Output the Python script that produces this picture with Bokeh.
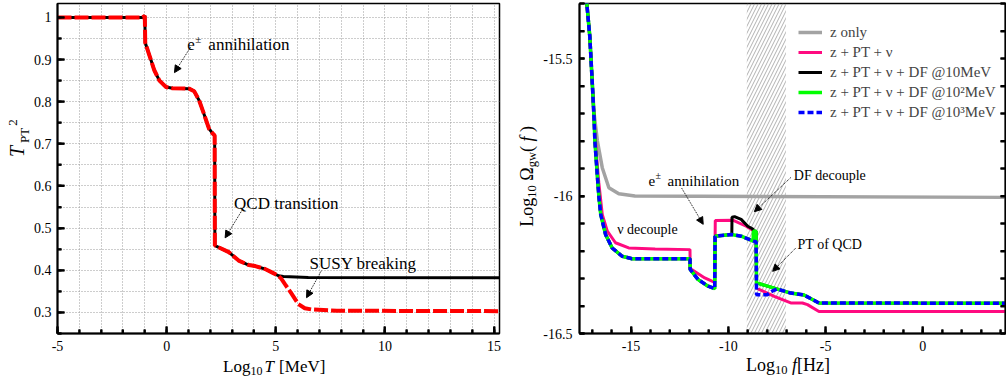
from bokeh.plotting import figure
from bokeh.layouts import row, column
from bokeh.models import (Range1d, FixedTicker, LinearAxis, Label, Arrow, NormalHead,
                          BoxAnnotation, Legend, LegendItem, Div, ColumnDataSource)
from bokeh.embed import file_html
from bokeh.resources import INLINE

SERIF = "Liberation Serif"

# ---------------- left panel data: T_PT^2 vs log10 T [MeV] ----------------
logT_susy = [-5.0, -1.1, -1.0, -0.98, -0.79, -0.56, -0.33, -0.03, 0.27, 1.03, 1.26, 1.49,
             1.71, 1.94, 2.12, 2.2, 2.21, 2.24, 2.85, 3.3, 3.76, 4.06, 4.51, 4.82, 5.12,
             5.35, 6.49, 15.25]
tpt2_susy = [1.0, 1.0, 1.004, 0.94, 0.91, 0.874, 0.85, 0.835, 0.832, 0.831, 0.825, 0.803,
             0.771, 0.736, 0.724, 0.72, 0.458, 0.458, 0.443, 0.423, 0.4125, 0.41, 0.403, 0.395,
             0.387, 0.385, 0.383, 0.382]
logT_red = [-5.0, -1.1, -1.0, -0.98, -0.79, -0.56, -0.33, -0.03, 0.27, 1.03, 1.26, 1.49,
            1.71, 1.94, 2.12, 2.2, 2.21, 2.24, 2.85, 3.3, 3.76, 4.06, 4.51, 4.82, 5.12,
            5.25, 5.42, 5.73, 6.03, 6.33, 6.64, 7.8, 15.25]
tpt2_red = [1.0, 1.0, 1.004, 0.94, 0.91, 0.874, 0.85, 0.835, 0.832, 0.831, 0.825, 0.803,
            0.771, 0.736, 0.724, 0.72, 0.458, 0.458, 0.443, 0.423, 0.4125, 0.41, 0.403, 0.395,
            0.387, 0.38, 0.367, 0.344, 0.32, 0.31, 0.307, 0.304, 0.303]

left_x_range = (-5, 15.25)
left_y_range = (0.25, 1.033)
left_x_major = [-5, 0, 5, 10, 15]
left_x_minor = list(range(-5, 16))
left_y_major = [0.3, 0.4, 0.5, 0.6, 0.7, 0.8, 0.9, 1]
left_y_minor = [round(0.25 + 0.05 * k, 2) for k in range(16)]

# ---------------- right panel data: log10 Omega_gw vs log10 f [Hz] ----------------
logf_z = [-17.3, -17.12, -17.0, -16.9, -16.73, -16.48, -16.14, -15.63, -14.8, 4.25]
omega_z = [-15.28, -15.42, -15.58, -15.70, -15.80, -15.897, -15.97, -15.992, -16.0, -16.005]

logf_ptnu = [-17.3, -17.12, -17.0, -16.9, -16.78, -16.66, -16.48, -16.22, -15.80, -15.12,
             -13.76, -11.97, -11.96, -11.21, -10.70, -10.67, -9.77, -9.08, -8.72, -8.57,
             -8.55, -7.64, -6.79, -6.19, -5.93, -5.34, 4.25]
omega_ptnu = [-15.28, -15.42, -15.58, -15.72, -15.85, -15.95, -16.067, -16.128, -16.17, -16.189,
              -16.193, -16.195, -16.264, -16.298, -16.314, -16.089, -16.088, -16.11, -16.125,
              -16.139, -16.335, -16.365, -16.389, -16.389, -16.395, -16.42, -16.42]

head_logf = [-17.3, -17.12, -17.0, -16.9, -16.86, -16.73, -16.65, -16.56, -16.31, -15.97,
             -15.46, -14.95, -11.97, -11.96, -11.55, -11.04, -10.70, -10.68]
head_omega = [-15.28, -15.42, -15.58, -15.72, -15.8, -15.93, -16.006, -16.067, -16.14, -16.189,
              -16.219, -16.228, -16.228, -16.267, -16.304, -16.328, -16.337, -16.146]

logf_df1 = head_logf + [-9.85, -9.82, -9.81, -9.68, -9.34, -9.0, -8.74, -8.71, -8.57, -8.55,
                        -7.64, -6.79, -6.11, -5.34, 4.25]
omega_df1 = head_omega + [-16.14, -16.14, -16.077, -16.075, -16.085, -16.11, -16.12, -16.128,
                          -16.128, -16.316, -16.335, -16.353, -16.36, -16.389, -16.39]
logf_df2 = head_logf + [-9.85, -9.34, -8.93, -8.72, -8.71, -8.57, -8.55, -7.64, -6.79, -6.11,
                        -5.34, 4.25]
omega_df2 = head_omega + [-16.14, -16.146, -16.158, -16.164, -16.128, -16.128, -16.316, -16.335,
                          -16.353, -16.36, -16.389, -16.39]
logf_df3 = head_logf + [-9.85, -9.34, -8.93, -8.72, -8.57, -8.55, -8.0, -7.72, -7.5, -6.79,
                        -6.11, -5.34, 4.25]
omega_df3 = head_omega + [-16.14, -16.146, -16.158, -16.164, -16.166, -16.359, -16.359, -16.345,
                          -16.338, -16.353, -16.36, -16.389, -16.39]

df_band = [-9.05, -7.04]

legend_labels = ["z only", "z + PT + ν", "z + PT + ν + DF @10MeV",
                 "z + PT + ν + DF @10²MeV", "z + PT + ν + DF @10³MeV"]

right_x_range = (-17.65, 4.25)
right_y_range = (-16.5, -15.3)
right_x_major = [-15, -10, -5, 0]
right_x_minor = list(range(-17, 5))
right_y_major = [-16.5, -16, -15.5]
right_y_minor = [round(-16.5 + 0.1 * k, 1) for k in range(13)]

PH = 356   # plot figure height
LH = 26    # x-title strip height
FRAME_H = 330
FRAME_WL = 445
FRAME_WR = 428


def style_axis(ax, standoff=8, major_in=7, minor_in=4):
    ax.axis_line_width = 2
    ax.axis_line_color = "black"
    ax.major_tick_in = major_in
    ax.major_tick_out = 0
    ax.minor_tick_in = minor_in
    ax.minor_tick_out = 0
    ax.major_tick_line_width = 2
    ax.minor_tick_line_width = 2
    ax.major_tick_line_color = "black"
    ax.minor_tick_line_color = "black"
    ax.major_label_text_font = SERIF
    ax.major_label_text_font_size = "14px"
    ax.major_label_text_color = "black"
    ax.major_label_standoff = standoff
    ax.axis_label = None


def labels_for(ticks):
    return {t: f"{t:g}" for t in ticks}


def inward_ticks(p, xr, yr, fw, fh, xticks, yticks, length, sides=("bottom", "left")):
    """Inward-pointing tick marks, built from the tick lists and the ranges."""
    dx = length * (xr[1] - xr[0]) / fw
    dy = length * (yr[1] - yr[0]) / fh
    x0, y0, x1, y1 = [], [], [], []
    if "bottom" in sides:
        for t in xticks:
            x0.append(t); y0.append(yr[0]); x1.append(t); y1.append(yr[0] + dy)
    if "left" in sides:
        for t in yticks:
            x0.append(xr[0]); y0.append(t); x1.append(xr[0] + dx); y1.append(t)
    if "right" in sides:
        for t in yticks:
            x0.append(xr[1]); y0.append(t); x1.append(xr[1] - dx); y1.append(t)
    src = ColumnDataSource(data=dict(x0=x0, y0=y0, x1=x1, y1=y1))
    p.segment(x0="x0", y0="y0", x1="x1", y1="y1", source=src, line_color="#000000",
              line_width=2, level="overlay")


def note(p, txt, x, y, size, dx=0, dy=0):
    p.add_layout(Label(x=x, y=y, text=txt, x_offset=dx, y_offset=dy, text_font=SERIF,
                       text_font_size=f"{size}px", text_color="black",
                       text_baseline="alphabetic", text_align="left"))


def arrow(p, x0, y0, x1, y1):
    p.add_layout(Arrow(x_start=x0, y_start=y0, x_end=x1, y_end=y1, line_color="black",
                       line_width=1, line_dash="1 1",
                       end=NormalHead(size=7, fill_color="black", line_color="black",
                                      line_width=1)))


def fs(size, italic=False):
    return (f"font-family:'Liberation Serif',serif;font-size:{size}px;"
            f"font-style:{'italic' if italic else 'normal'};font-weight:normal;fill:#000")


def svg_div(w, h, body):
    svg = (f'<svg xmlns="http://www.w3.org/2000/svg" width="{w}" height="{h}" '
           f'style="display:block;overflow:visible">{body}</svg>')
    return Div(text=svg, width=w, height=h, margin=0, styles={"overflow": "visible"})


# ======================= left figure =======================
pL = figure(width=478, height=PH, output_backend="svg", toolbar_location=None,
            x_range=Range1d(*left_x_range), y_range=Range1d(*left_y_range),
            min_border_left=24, min_border_right=9, min_border_top=3, min_border_bottom=23)
pL.outline_line_color = "black"
pL.outline_line_width = 1.5
pL.xaxis.ticker = FixedTicker(ticks=left_x_major, minor_ticks=left_x_minor)
pL.yaxis.ticker = FixedTicker(ticks=left_y_major, minor_ticks=left_y_minor)
axL_x, axL_y = pL.xaxis[0], pL.yaxis[0]
style_axis(axL_x, standoff=7)
style_axis(axL_y, standoff=6)
axL_x.major_label_overrides = labels_for(left_x_major)
axL_y.major_label_overrides = labels_for(left_y_major)
pL.xgrid.ticker = FixedTicker(ticks=left_x_minor)
pL.ygrid.ticker = FixedTicker(ticks=left_y_minor)
pL.grid.grid_line_color = "#9a9a9a"
pL.grid.grid_line_dash = "1 2"
pL.grid.grid_line_width = 1

inward_ticks(pL, left_x_range, left_y_range, FRAME_WL, FRAME_H, left_x_major, left_y_major, 7)
inward_ticks(pL, left_x_range, left_y_range, FRAME_WL, FRAME_H,
             [t for t in left_x_minor if t not in left_x_major],
             [t for t in left_y_minor if t not in left_y_major], 4)

pL.line(logT_susy, tpt2_susy, line_color="black", line_width=3)
pL.line(logT_red, tpt2_red, line_color="#ff0000", line_width=4, line_dash="14 3")

note(pL, "e", 0.95, 0.935, 17)
note(pL, "±", 0.95, 0.935, 11, dx=8, dy=6)
note(pL, "annihilation", 0.95, 0.935, 17, dx=21)
arrow(pL, 1.09, 0.929, 0.36, 0.869)
note(pL, "QCD transition", 3.09, 0.5575, 17)
arrow(pL, 3.45, 0.542, 2.68, 0.477)
note(pL, "SUSY breaking", 6.545, 0.415, 17)
arrow(pL, 7.09, 0.399, 6.41, 0.335)

ylabL = svg_div(30, PH,
    f'<text transform="translate(24,157) rotate(-90)" style="{fs(20)}">'
    f'<tspan style="{fs(20, True)}">T</tspan>'
    f'<tspan style="{fs(13)}" dx="3" dy="5">PT</tspan>'
    f'<tspan style="{fs(13)}" dx="2" dy="-12">2</tspan></text>')
xlabL = svg_div(508, LH,
    f'<text x="223" y="16" style="{fs(17)}"><tspan style="{fs(17)}">Log</tspan>'
    f'<tspan style="{fs(12)}" dy="3">10</tspan>'
    f'<tspan style="{fs(17, True)}" dx="2" dy="-3">T</tspan>'
    f'<tspan style="{fs(17)}" dx="1">&#160;[MeV]</tspan></text>')

# ======================= right figure =======================
pR = figure(width=466, height=PH, output_backend="svg", toolbar_location=None,
            x_range=Range1d(*right_x_range), y_range=Range1d(*right_y_range),
            min_border_left=37, min_border_right=1, min_border_top=3, min_border_bottom=23)
pR.outline_line_color = "black"
pR.outline_line_width = 1.5
pR.grid.visible = False
pR.xaxis.ticker = FixedTicker(ticks=right_x_major, minor_ticks=right_x_minor)
pR.yaxis.ticker = FixedTicker(ticks=right_y_major, minor_ticks=right_y_minor)
axR_x, axR_y = pR.xaxis[0], pR.yaxis[0]
style_axis(axR_x, standoff=7)
style_axis(axR_y, standoff=7, major_in=5, minor_in=5)
axR_x.major_label_overrides = labels_for(right_x_major)
axR_y.major_label_overrides = labels_for(right_y_major)
rax = LinearAxis(ticker=FixedTicker(ticks=[], minor_ticks=right_y_minor))
style_axis(rax, standoff=0, major_in=5, minor_in=5)
pR.add_layout(rax, "right")

pR.add_layout(BoxAnnotation(left=df_band[0], right=df_band[1], fill_color="white",
                            fill_alpha=0, line_color=None, hatch_pattern="/",
                            hatch_color="#8f8f8f", hatch_weight=0.7, hatch_scale=7,
                            level="underlay"))

inward_ticks(pR, right_x_range, right_y_range, FRAME_WR, FRAME_H, right_x_major,
             right_y_minor, 7, sides=("bottom",))
inward_ticks(pR, right_x_range, right_y_range, FRAME_WR, FRAME_H,
             [t for t in right_x_minor if t not in right_x_major], right_y_minor, 4,
             sides=("bottom",))
inward_ticks(pR, right_x_range, right_y_range, FRAME_WR, FRAME_H, [], right_y_minor, 5,
             sides=("left", "right"))

r_z = pR.line(logf_z, omega_z, line_color="#a3a3a3", line_width=3.5)
r_pn = pR.line(logf_ptnu, omega_ptnu, line_color="#ff0a80", line_width=3)
r_d1 = pR.line(logf_df1, omega_df1, line_color="black", line_width=3)
r_d2 = pR.line(logf_df2, omega_df2, line_color="#00ff00", line_width=3.5)
r_d3 = pR.line(logf_df3, omega_df3, line_color="#0000ff", line_width=3.5, line_dash="6 3")

leg = Legend(items=[LegendItem(label=lab, renderers=[r]) for lab, r in
                    zip(legend_labels, [r_z, r_pn, r_d1, r_d2, r_d3])],
             location=(219, 212), label_text_font=SERIF, label_text_font_size="15px",
             glyph_width=24, glyph_height=18, label_height=18, label_standoff=8,
             spacing=2, padding=0, margin=0, border_line_alpha=0, background_fill_alpha=0)
pR.add_layout(leg)

note(pR, "e", -14.10, -15.945, 15)
note(pR, "±", -14.10, -15.945, 10, dx=7, dy=5)
note(pR, "annihilation", -14.10, -15.945, 15, dx=19)
arrow(pR, -12.40, -15.971, -11.29, -16.103)
note(pR, "ν decouple", -15.71, -16.120, 14)
note(pR, "DF decouple", -6.63, -15.927, 14)
arrow(pR, -6.79, -15.933, -8.66, -16.057)
note(pR, "PT of QCD", -6.44, -16.175, 14)
arrow(pR, -6.53, -16.189, -7.72, -16.274)

ylabR = svg_div(32, PH,
    f'<text transform="translate(25,226.7) rotate(-90)" style="{fs(18)}">'
    f'<tspan style="{fs(18)}">Log</tspan>'
    f'<tspan style="{fs(12.5)}" dy="3">10</tspan>'
    f'<tspan style="{fs(18)}" dy="-3">&#160;Ω</tspan>'
    f'<tspan style="{fs(12.5)}" dy="3">gw</tspan>'
    f'<tspan style="{fs(18)}" dy="-3">(&#160;</tspan>'
    f'<tspan style="{fs(18, True)}">f</tspan>'
    f'<tspan style="{fs(18)}">&#160;)</tspan></text>')
xlabR = svg_div(498, LH,
    f'<text x="238" y="15" style="{fs(18)}"><tspan style="{fs(18)}">Log</tspan>'
    f'<tspan style="{fs(12.5)}" dy="3">10</tspan>'
    f'<tspan style="{fs(18)}" dy="-3">&#160;</tspan>'
    f'<tspan style="{fs(18, True)}">f</tspan>'
    f'<tspan style="{fs(18)}">[Hz]</tspan></text>')

layout = row(column(row(ylabL, pL), xlabL), column(row(ylabR, pR), xlabR))
open("out.html", "w").write(file_html(layout, INLINE))
